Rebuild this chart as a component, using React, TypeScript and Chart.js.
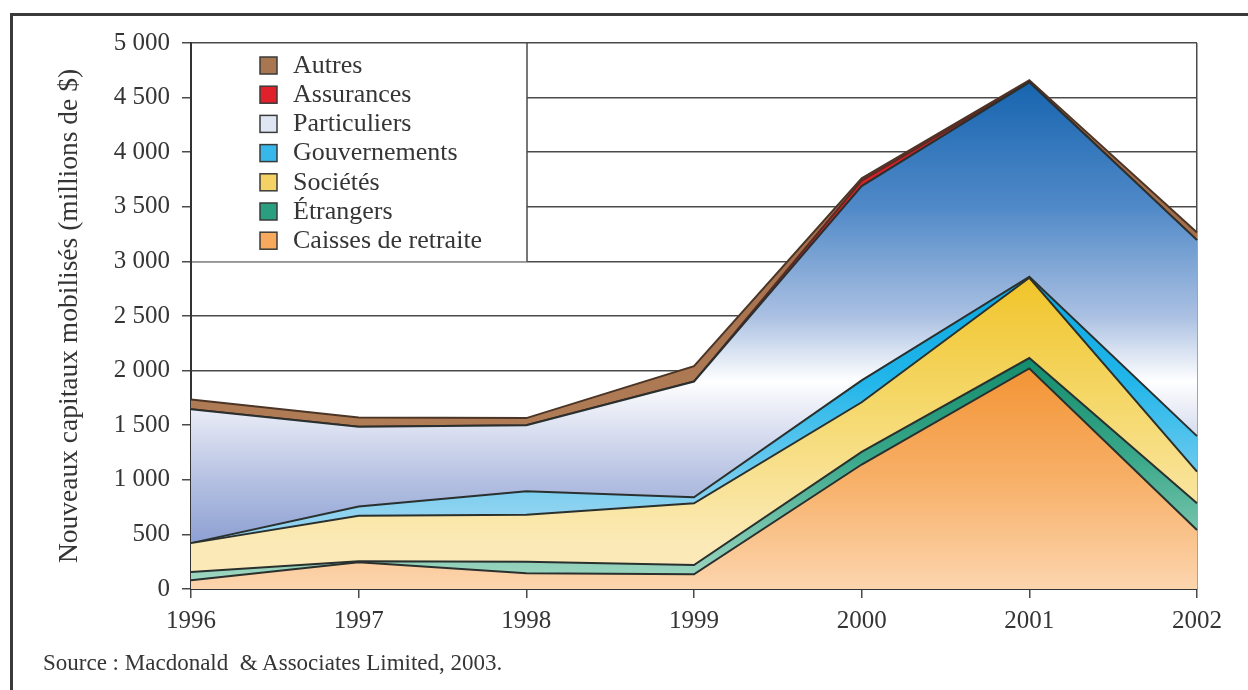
import React, { useEffect, useRef } from 'react';
import { Chart, registerables } from 'chart.js';

Chart.register(...registerables);

const years = ['1996', '1997', '1998', '1999', '2000', '2001', '2002'];
const caisses = [80, 245, 145, 135, 1140, 2020, 540];
const etrangers = [75, 10, 105, 85, 115, 95, 245];
const societes = [265, 415, 430, 565, 455, 735, 290];
const gouvernements = [0, 85, 215, 55, 200, 10, 325];
const particuliers = [1225, 730, 605, 1060, 1780, 1780, 1795];
const assurances = [0, 0, 0, 0, 50, 5, 0];
const autres = [90, 85, 65, 140, 20, 15, 70];

const legendLabels = ['Autres', 'Assurances', 'Particuliers', 'Gouvernements', 'Sociétés', 'Étrangers', 'Caisses de retraite'];
const legendColors = ['#a87650', '#e0202a', '#dfe5f3', '#38b8ea', '#f5d266', '#2a9f80', '#f7a95e'];

const FONT = "'Liberation Serif', 'Times New Roman', serif";
const TEXT = '#353535';
const LINE = '#2a302e';

function grad(stops: [number, string][]) {
  return (ctx: any) => {
    const chart = ctx.chart;
    const { chartArea, scales } = chart;
    if (!chartArea || !scales.y) return stops[0][1];
    const y = scales.y;
    const g = chart.ctx.createLinearGradient(0, chartArea.bottom, 0, chartArea.top);
    const h = chartArea.bottom - chartArea.top;
    for (const [v, c] of stops) {
      const f = (chartArea.bottom - y.getPixelForValue(v)) / h;
      g.addColorStop(Math.min(1, Math.max(0, f)), c);
    }
    return g;
  };
}

const legendPlugin = {
  id: 'boxLegend',
  afterDraw(chart: any) {
    const { ctx, chartArea, scales } = chart;
    const left = chartArea.left + 1;
    const top = chartArea.top + 1;
    const right = chartArea.left + 336;
    const bottom = scales.y.getPixelForValue(3000);
    ctx.save();
    ctx.fillStyle = '#ffffff';
    ctx.fillRect(left, top, right - left, bottom - top);
    ctx.strokeStyle = '#4a4a4a';
    ctx.lineWidth = 1.5;
    ctx.beginPath();
    ctx.moveTo(right, chartArea.top);
    ctx.lineTo(right, bottom);
    ctx.stroke();
    ctx.font = `26px ${FONT}`;
    ctx.textBaseline = 'middle';
    ctx.textAlign = 'left';
    for (let i = 0; i < legendLabels.length; i++) {
      const cy = 65 + i * 29.2;
      ctx.fillStyle = legendColors[i];
      ctx.fillRect(260, cy - 8, 17, 17);
      ctx.strokeStyle = '#3a3a3a';
      ctx.lineWidth = 1.5;
      ctx.strokeRect(260, cy - 8, 17, 17);
      ctx.fillStyle = TEXT;
      ctx.fillText(legendLabels[i], 293, cy + 1);
    }
    ctx.restore();
  },
};

function fmt(v: number) {
  if (v >= 1000) {
    const th = Math.floor(v / 1000);
    const rest = String(v % 1000).padStart(3, '0');
    return `${th} ${rest}`;
  }
  return String(v);
}

export default function App() {
  const ref = useRef<HTMLCanvasElement | null>(null);
  useEffect(() => {
    if (!ref.current) return;
    const ds = (label: string, data: number[], bg: any, fill: any, border = LINE) => ({
      label,
      data,
      backgroundColor: bg,
      borderColor: border,
      borderWidth: 2,
      fill,
      pointRadius: 0,
      tension: 0,
    });
    const chart = new Chart(ref.current, {
      type: 'line',
      data: {
        labels: years,
        datasets: [
          ds('Caisses de retraite', caisses, grad([[0, '#fcd5ae'], [1000, '#f7b068'], [2100, '#f39232']]), 'origin'),
          ds('Étrangers', etrangers, grad([[0, '#a6dac6'], [1200, '#3aa88a'], [2200, '#0f8a6a']]), '-1'),
          ds('Sociétés', societes, grad([[400, '#fbeab8'], [1700, '#f5d86a'], [2900, '#f0c326']]), '-1'),
          ds('Gouvernements', gouvernements, grad([[700, '#8fd3f0'], [1900, '#22b6ea'], [2900, '#08a6e0']]), '-1'),
          ds('Particuliers', particuliers, grad([[400, '#8c9fd2'], [1000, '#b5c1e2'], [1700, '#eef0f8'], [1900, '#ffffff'], [2500, '#aac0e2'], [3500, '#5089c8'], [4700, '#1463ae']]), '-1'),
          ds('Assurances', assurances, '#d62128', '-1', '#5a2a24'),
          ds('Autres', autres, grad([[1500, '#b07c56'], [3500, '#a36f4b']]), '-1', '#4b3526'),
        ],
      },
      options: {
        responsive: false,
        animation: false,
        devicePixelRatio: 1,
        layout: { padding: { left: 0, right: 51, top: 43, bottom: 0 } },
        plugins: { legend: { display: false }, tooltip: { enabled: false } },
        scales: {
          x: {
            offset: false,
            afterFit: (s: any) => { s.height = 101; },
            grid: {
              color: (c: any) => (c.index === years.length - 1 ? '#4a4a4a' : 'rgba(0,0,0,0)'),
              tickColor: '#4a4a4a',
              tickLength: 9,
              lineWidth: 1.5,
            },
            border: { display: true, color: '#333', width: 2 },
            ticks: { color: TEXT, font: { family: FONT, size: 25 }, padding: 8, maxRotation: 0 },
          },
          y: {
            stacked: true,
            min: 0,
            max: 5000,
            afterFit: (s: any) => { s.width = 191; },
            grid: { color: '#4a4a4a', lineWidth: 1.5, tickLength: 9, tickColor: '#4a4a4a' },
            border: { display: true, color: '#333', width: 2 },
            ticks: { stepSize: 500, color: TEXT, font: { family: FONT, size: 25 }, padding: 12, callback: (v: any) => fmt(Number(v)) },
            title: {
              display: true,
              text: 'Nouveaux capitaux mobilisés (millions de $)',
              color: TEXT,
              font: { family: FONT, size: 27.5 },
              padding: { top: 53, bottom: 0 },
            },
          },
        },
      },
      plugins: [legendPlugin],
    });
    return () => chart.destroy();
  }, []);

  return (
    <div style={{ position: 'absolute', left: 0, top: 0, width: 1248, height: 690, overflow: 'hidden', background: '#ffffff' }}>
      <div style={{ position: 'absolute', left: 10, top: 13, width: 1300, height: 760, borderLeft: '3px solid #3a3a3a', borderTop: '3px solid #3a3a3a' }} />
      <canvas ref={ref} width={1248} height={690} style={{ position: 'absolute', left: 0, top: 0, display: 'block' }} />
      <div style={{ position: 'absolute', left: 43, top: 650, fontFamily: FONT, fontSize: 23, color: TEXT, whiteSpace: 'pre', lineHeight: '26px' }}>
        {'Source : Macdonald  & Associates Limited, 2003.'}
      </div>
    </div>
  );
}
